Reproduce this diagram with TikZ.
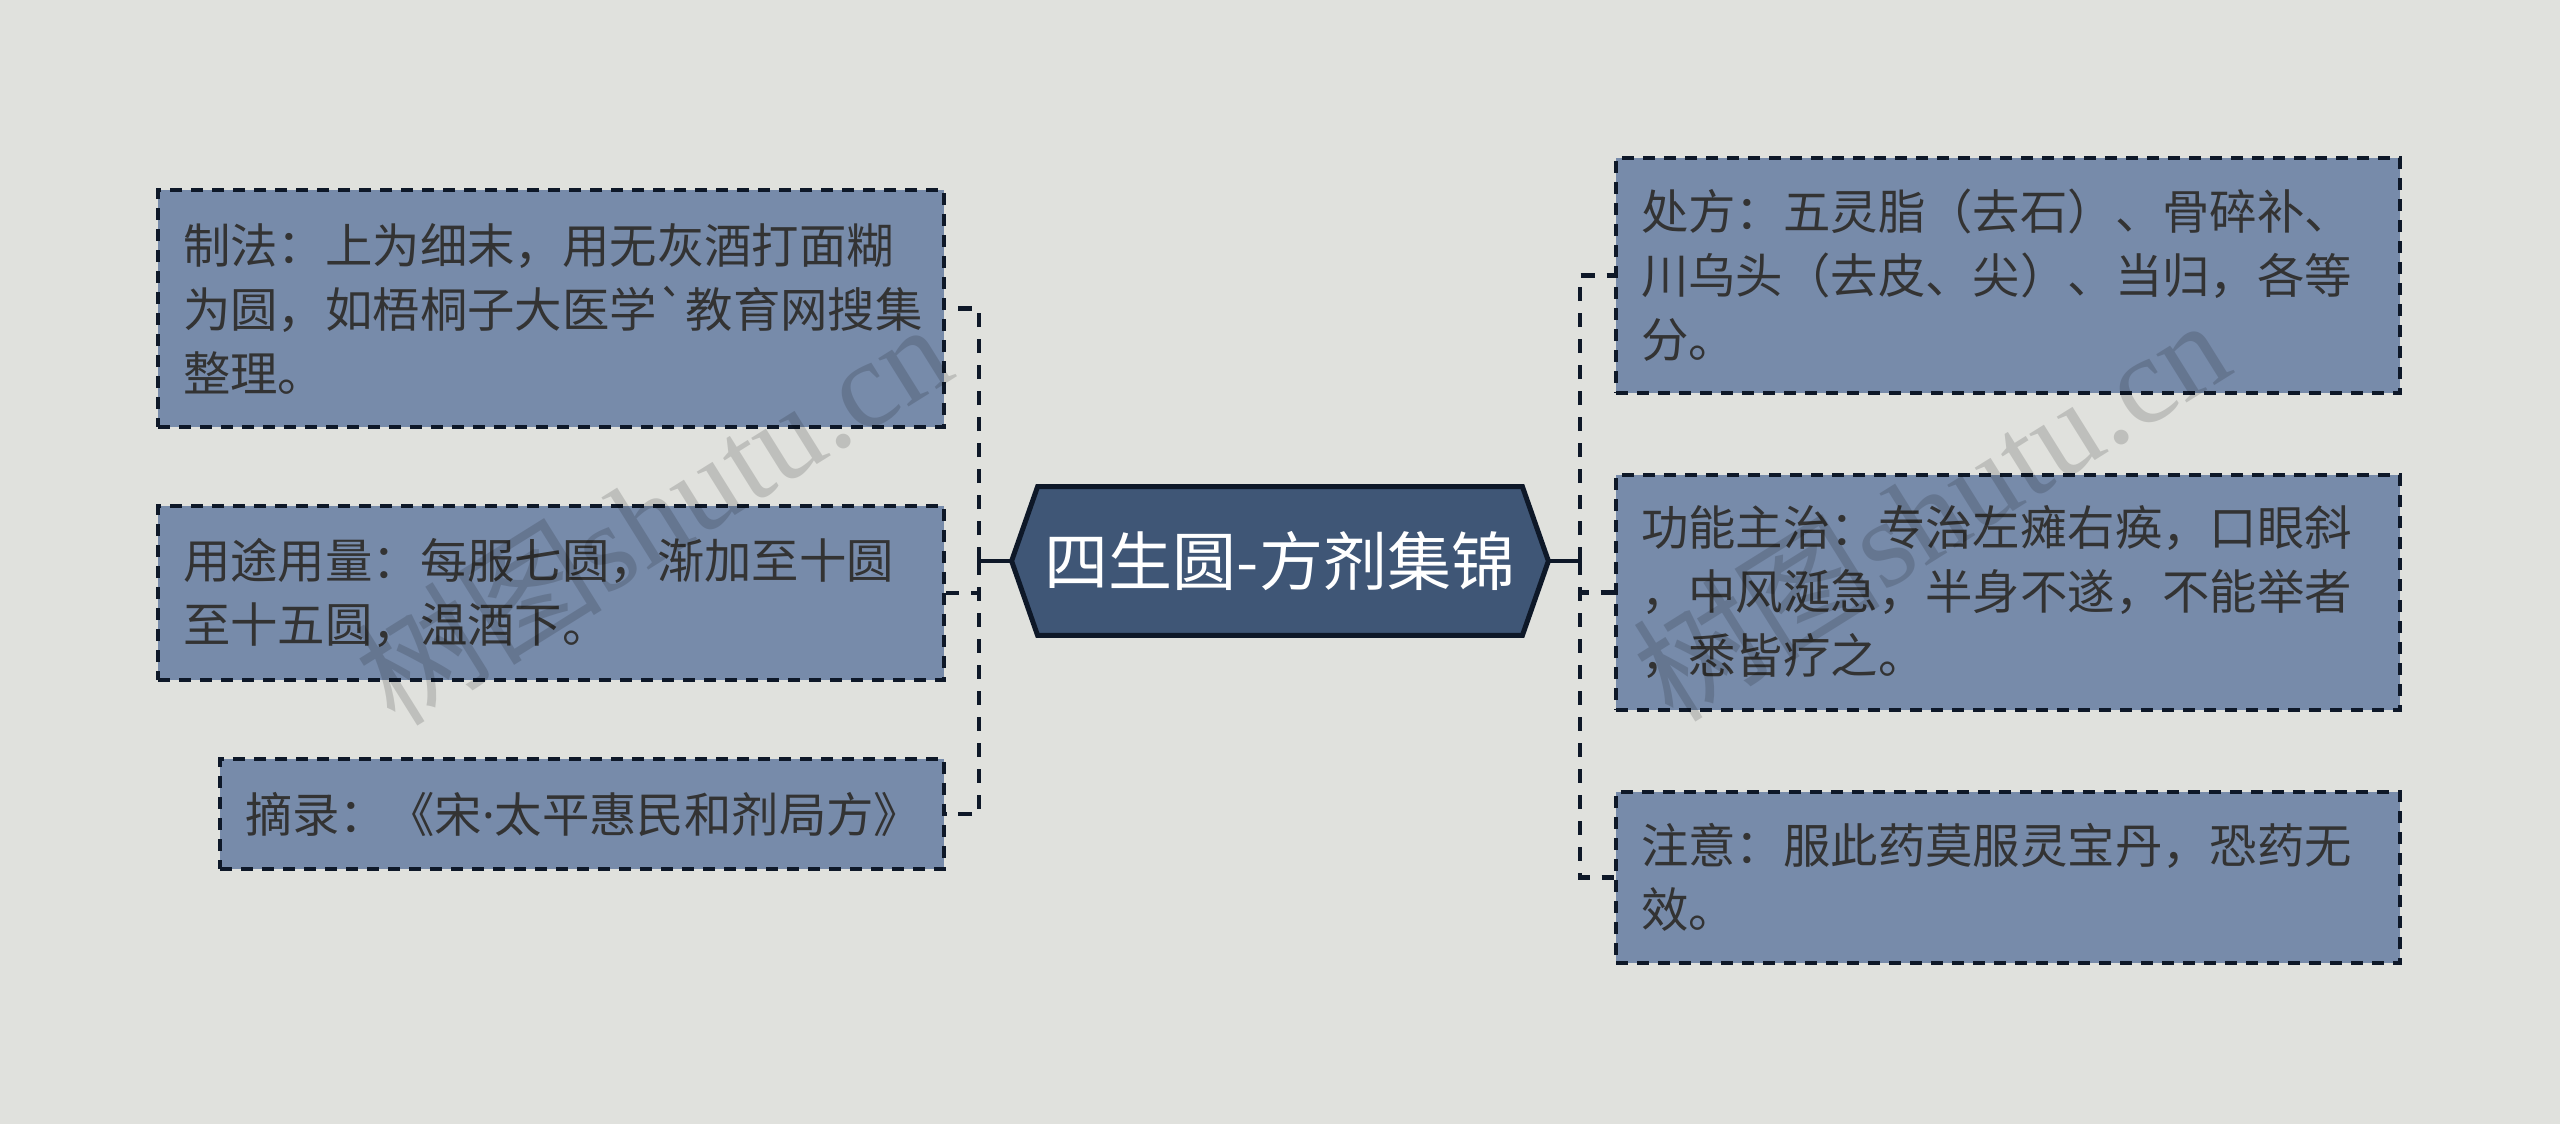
\documentclass[tikz,border=0pt]{standalone}
\usepackage{fontspec}
\setmainfont{Noto Sans CJK SC}
\newfontfamily\plaincjk{Noto Sans CJK SC}
\newfontfamily\dotfont{Noto Sans}
\newfontfamily\wmfont{Liberation Serif}
\usetikzlibrary{backgrounds}
\definecolor{pagebg}{HTML}{E0E1DD}
\definecolor{boxfill}{HTML}{778BAA}
\definecolor{edgec}{HTML}{0E1828}
\definecolor{txtc}{HTML}{333333}
\definecolor{hexfill}{HTML}{3F5676}
\tikzset{
  leaf/.style={rectangle, fill=boxfill, draw=edgec, line width=1.75pt,
    dash pattern=on 6pt off 4.5pt, text=txtc, align=left,
    inner xsep=12.5pt, inner ysep=0pt, font=\fontsize{23.7}{32}\selectfont},
  conn/.style={draw=edgec, line width=2.25pt, dash pattern=on 7pt off 6pt},
  trunk/.style={draw=edgec, line width=2pt},
  hexline/.style={fill=hexfill, draw=edgec, line width=2.5pt, line join=miter},
  titlenode/.style={text=white, font=\fontsize{32}{38}\selectfont,
    minimum width=268pt, minimum height=74pt, inner sep=0pt},
  wm/.style={text=black, opacity=0.15, rotate=32,
    font=\fontsize{62}{62}\selectfont, inner sep=0pt}
}
\begin{document}
\begin{tikzpicture}[x=0.5pt,y=-0.5pt]
\useasboundingbox (0,0) rectangle (2560,1124);
\begin{scope}[on background layer]
  \fill[pagebg] (0,0) rectangle (2560,1124);
\end{scope}

% central topic
\node[titlenode] (title) at (1280,561) {四生圆-方剂集锦};
\begin{scope}[on background layer]
  \draw[hexline] (title.west) -- ([xshift=13pt]title.north west)
    -- ([xshift=-13pt]title.north east) -- (title.east)
    -- ([xshift=-13pt]title.south east) -- ([xshift=13pt]title.south west) -- cycle;
\end{scope}

% left branches
\node[leaf, text width=368pt, minimum width=393pt, minimum height=118.5pt] (b1) at (551,308.5)
  {制法：上为细末，用无灰酒打面糊\\为圆，如梧桐子大医学{\plaincjk`}教育网搜集\\整理。};
\node[leaf, text width=368pt, minimum width=393pt, minimum height=87pt] (b2) at (551,593)
  {用途用量：每服七圆，渐加至十圆\\至十五圆，温酒下。};
\node[leaf, text width=337pt, minimum width=362pt, minimum height=55pt] (b3) at (582,814)
  {摘录：《宋{\dotfont ·}太平惠民和剂局方》};

% right branches
\node[leaf, text width=367pt, minimum width=392pt, minimum height=117.5pt] (b4) at (2008,275.5)
  {处方：五灵脂（去石）、骨碎补、\\川乌头（去皮、尖）、当归，各等\\分。};
\node[leaf, text width=367pt, minimum width=392pt, minimum height=117.5pt] (b5) at (2008,592.5)
  {功能主治：专治左瘫右痪，口眼斜\\，中风涎急，半身不遂，不能举者\\，悉皆疗之。};
\node[leaf, text width=367pt, minimum width=392pt, minimum height=85.5pt] (b6) at (2008,877.5)
  {注意：服此药莫服灵宝丹，恐药无\\效。};

% connectors
\coordinate (jl) at (979,561);
\coordinate (jr) at (1580,561);
\draw[trunk] (title.west) -- (jl);
\draw[trunk] (title.east) -- (jr);
\draw[conn] (jl) |- (b1.east);
\draw[conn] (jl) |- (b2.east);
\draw[conn] (jl) |- (b3.east);
\draw[conn] (jr) |- (b4.west);
\draw[conn] (jr) |- (b5.west);
\draw[conn] (jr) |- (b6.west);

% watermarks
\node[wm] (wm1) at (652,512) {树图{\wmfont shutu.cn}};
\node[wm] (wm2) at (1930,508) {树图{\wmfont shutu.cn}};
\end{tikzpicture}
\end{document}
